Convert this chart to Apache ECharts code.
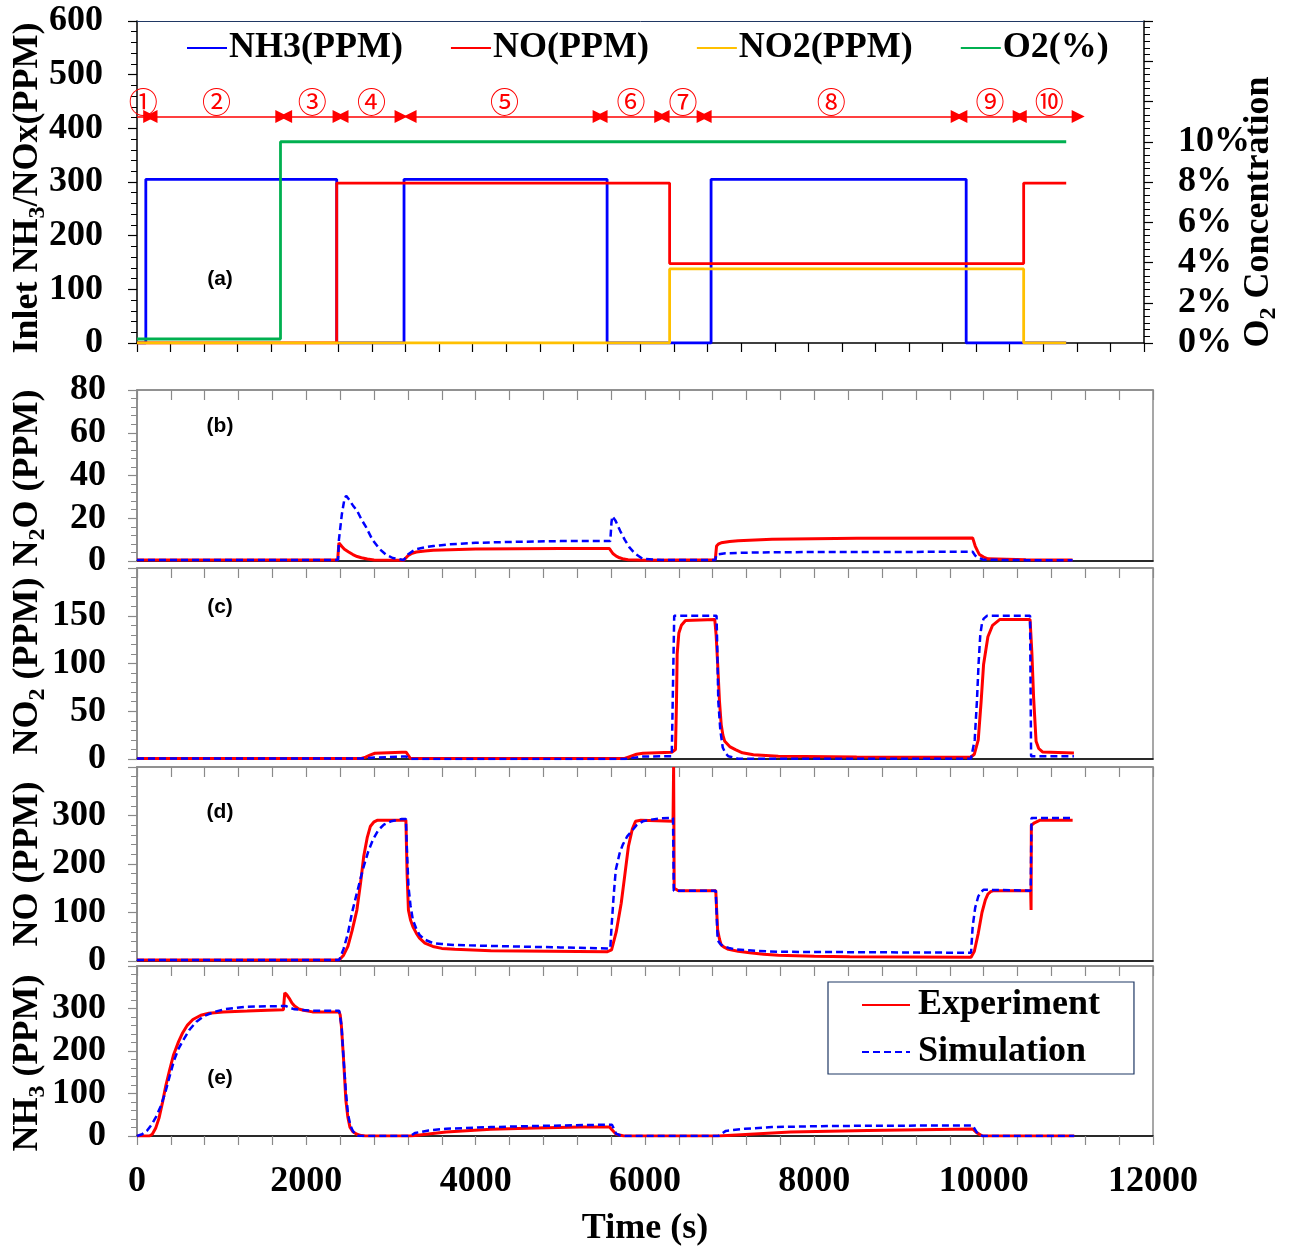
<!DOCTYPE html>
<html><head><meta charset="utf-8">
<script src="https://cdn.jsdelivr.net/npm/echarts@6/dist/echarts.min.js"></script>
<style>html,body{margin:0;padding:0;background:#fff}#c{width:1292px;height:1247px}</style>
</head><body><div id="c"></div>
<script>
// ---------- DATA ----------
// Panel (a): inlet step profiles (time s, value)
const inletNH3T = [0, 105, 2380, 3182, 5602, 6841, 9881, 11073];
const inletNH3V = [0, 305, 0, 305, 0, 305, 0, 0];
const inletNOT  = [0, 2380, 6347, 10566, 11073];
const inletNOV  = [0, 298, 148, 298, 298];
const inletNO2T = [0, 6347, 10566, 11073];
const inletNO2V = [0, 138, 0, 0];
const inletO2T  = [0, 1710, 11073];
const inletO2V  = [0.2, 10, 10];

// Phase annotations (panel a)
const phaseLabels = ['①','②','③','④','⑤','⑥','⑦','⑧','⑨','⑩'];
const phaseStart  = [0, 167, 1771, 2443, 3254, 5530, 6269, 6770, 9818, 10525];
const phaseEnd    = [151, 1726, 2408, 3147, 5507, 6241, 6746, 9774, 10513, 11216];
const phaseLevel  = 422;

// Panel (b): N2O
const n2oExpT = [0, 2370, 2385, 2420, 2450, 2500, 2550, 2600, 2650, 2720, 2800, 3150, 3200, 3250, 3300, 3400, 3500, 3700, 4000, 5000, 5580, 5620, 5660, 5700, 5750, 5800, 6000, 6830, 6845, 6870, 6900, 7000, 7100, 7500, 8500, 9870, 9900, 9930, 9950, 10000, 10050, 10500, 11050];
const n2oExpV = [0.5, 0.5, 8.5, 6.8, 5.5, 4.2, 3, 2.1, 1.5, 0.9, 0.5, 0.3, 2.5, 3.6, 4.2, 4.7, 5.0, 5.3, 5.6, 5.8, 5.8, 3.5, 2.3, 1.5, 0.9, 0.6, 0.4, 0.6, 7, 8, 8.5, 9.1, 9.5, 10.2, 10.7, 10.8, 7, 4.5, 3, 1.8, 1, 0.6, 0.5];
const n2oSimT = [0, 2375, 2385, 2420, 2450, 2470, 2500, 2550, 2600, 2650, 2706, 2780, 2863, 2940, 3020, 3150, 3200, 3250, 3300, 3400, 3500, 3700, 4000, 4500, 5000, 5590, 5604, 5614, 5650, 5708, 5760, 5814, 5880, 5974, 6200, 6830, 6845, 6950, 7300, 8000, 9870, 9900, 9990, 10500, 11050];
const n2oSimV = [0.5, 0.5, 10, 22, 29, 30.5, 29, 26, 23.5, 19.5, 15.8, 10, 5.7, 3, 1.4, 0.5, 3, 4.5, 5.5, 6.4, 7, 7.8, 8.5, 9, 9.3, 9.3, 18, 20.9, 19, 14, 10, 6.5, 3.5, 1, 0.5, 0.5, 3, 3.6, 4, 4.2, 4.3, 2.5, 0.6, 0.4, 0.4];

// Panel (c): NO2
const no2ExpT = [0, 2650, 2700, 2750, 2810, 3128, 3180, 3230, 5760, 5820, 5900, 5974, 6316, 6360, 6372, 6380, 6400, 6430, 6478, 6824, 6840, 6858, 6880, 6900, 6920, 6942, 7000, 7068, 7150, 7280, 7575, 8500, 9846, 9890, 9936, 9970, 9999, 10050, 10105, 10188, 10548, 10570, 10590, 10619, 10650, 10695, 11066];
const no2ExpV = [0.5, 0.5, 2, 4, 6, 7, 7, 0.5, 0.5, 2.5, 5, 6, 7, 10, 60, 110, 132, 140, 145, 146, 130, 100, 60, 36, 25, 18.5, 13, 9.8, 6.5, 4.5, 2.8, 2.2, 1.8, 5, 20, 60, 99, 128, 140, 146, 146, 110, 64, 18.5, 11, 7.4, 6.3];
const no2SimT = [0, 2650, 2810, 3128, 3180, 3230, 5760, 5974, 6316, 6335, 6345, 6845, 6855, 6866, 6890, 6918, 6950, 6985, 7100, 9850, 9894, 9920, 9940, 9960, 9980, 10000, 10041, 10548, 10560, 11066];
const no2SimV = [0.5, 0.5, 1.5, 2.5, 2.5, 0, 0, 2.5, 3, 3, 150, 150, 110, 60, 30, 12, 6, 2.8, 0.3, 0.3, 20, 60, 100, 130, 142, 147, 150, 150, 3, 3];

// Panel (d): NO
const noExpT = [0, 2388, 2440, 2491, 2540, 2597, 2640, 2678, 2720, 2757, 2800, 2836, 3176, 3190, 3206, 3230, 3258, 3300, 3337, 3400, 3495, 3600, 3754, 4180, 5550, 5605, 5660, 5719, 5760, 5804, 5850, 5888, 5950, 6331, 6338, 6345, 6394, 6836, 6845, 6858, 6880, 6900, 6940, 6985, 7100, 7237, 7400, 7575, 8000, 8418, 9851, 9890, 9936, 9980, 10020, 10050, 10083, 10120, 10555, 10560, 10563, 10600, 10661, 11051];
const noExpV = [2, 2, 12, 30, 62, 105, 160, 216, 255, 278, 287, 290, 290, 180, 105, 85, 71, 57, 47, 37, 30, 26, 24, 21, 19, 23, 60, 119, 175, 236, 272, 288, 290, 288, 400, 150, 145, 145, 110, 64, 45, 33, 28, 24, 20, 17, 14, 12, 10, 9, 7.6, 20, 57, 100, 126, 138, 143, 145, 145, 105, 280, 285, 290, 290];
const noSimT = [0, 2388, 2440, 2491, 2540, 2597, 2640, 2678, 2730, 2786, 2850, 2916, 3000, 3128, 3176, 3190, 3206, 3230, 3258, 3300, 3337, 3400, 3495, 3600, 3754, 4180, 5000, 5550, 5590, 5605, 5630, 5655, 5700, 5738, 5790, 5844, 5900, 5974, 6050, 6183, 6331, 6340, 6836, 6850, 6858, 6885, 6918, 6990, 7068, 7300, 7575, 9851, 9870, 9900, 9936, 9965, 10000, 10555, 10565, 11051];
const noSimV = [2, 2, 25, 57, 100, 140, 170, 195, 225, 250, 270, 281, 288, 293, 293, 220, 154, 115, 85, 66, 54, 44, 37, 35, 33, 31, 28, 26, 26, 71, 135, 188, 222, 240, 257, 268, 280, 288, 291, 294, 295, 145, 145, 80, 43, 36, 31, 27, 24, 21, 19, 17, 71, 110, 133, 142, 147, 145, 295, 295];

// Panel (e): NH3
const nh3ExpT = [0, 148, 180, 220, 260, 300, 340, 385, 430, 491, 540, 596, 660, 754, 850, 1016, 1300, 1546, 1729, 1745, 1770, 1798, 1830, 1861, 1910, 1967, 2072, 2388, 2400, 2415, 2440, 2467, 2490, 2515, 2550, 2597, 2650, 2700, 3232, 3651, 4180, 4707, 5234, 5580, 5659, 5750, 6866, 7720, 8630, 9870, 9917, 9985, 11070];
const nh3ExpV = [0, 0, 4, 18, 42, 78, 118, 155, 190, 222, 243, 261, 274, 284, 289, 292, 294, 296, 297, 337, 332, 324, 313, 306, 299, 296, 292, 292, 285, 257, 180, 84, 45, 21, 10, 4, 1, 0, 0, 9.4, 15.7, 18.9, 21, 21, 4, 0, 0, 9.4, 13, 16.5, 8, 0, 0];
const nh3SimT = [0, 16, 60, 120, 170, 225, 280, 331, 385, 438, 490, 544, 620, 702, 800, 912, 1050, 1281, 1755, 1800, 1861, 2072, 2388, 2415, 2441, 2465, 2491, 2520, 2546, 2580, 2620, 3232, 3282, 3443, 3651, 4180, 4707, 5580, 5610, 5659, 5720, 6866, 6955, 7180, 7500, 8177, 9870, 9917, 9985, 11070];
const nh3SimV = [0, 0, 4, 13, 26, 45, 70, 100, 140, 178, 205, 225, 250, 269, 283, 292, 299, 304, 306, 302, 298, 295, 295, 260, 178, 110, 53, 25, 13, 4, 0, 0, 7, 13, 17, 21, 23.6, 26.7, 26.7, 5.5, 0, 0, 12, 17, 21, 23.6, 25, 9, 0, 0];

// Axis tick values
const xTicks = {min: 0, max: 12000, step: 400, labelStep: 2000};
const yRanges = [
  {min: 0, max: 600, step: 100},
  {min: 0, max: 80, step: 20},
  {min: 0, max: 200, step: 50},
  {min: 0, max: 400, step: 100},
  {min: 0, max: 400, step: 100}
];
const o2Range = {min: 0, max: 16, step: 2, lastLabel: 10};

// ---------- STYLE ----------
const SERIF = "'Liberation Serif','Times New Roman',serif";
const SANS = "'Liberation Sans',Arial,sans-serif";
const RED = '#ff0000', BLUE = '#0000ff', YEL = '#ffc000', GRN = '#00b050';
const GRAY = '#8a8a8a';
const zip = (t, v) => t.map((x, i) => [x, v[i]]);

const grids = [
  {left: 137, top: 21, width: 1007, height: 322},
  {left: 137, top: 390, width: 1016, height: 171, show: true, borderColor: GRAY, borderWidth: 1.5},
  {left: 137, top: 568, width: 1016, height: 191, show: true, borderColor: GRAY, borderWidth: 1.5},
  {left: 137, top: 767, width: 1016, height: 194, show: true, borderColor: GRAY, borderWidth: 1.5},
  {left: 137, top: 966, width: 1016, height: 170, show: true, borderColor: GRAY, borderWidth: 1.5}
];

const labelFont = {fontFamily: SERIF, fontWeight: 'bold', fontSize: 36, color: '#000'};

const xBase = (g) => ({type: 'value', gridIndex: g, min: xTicks.min, max: xTicks.max, interval: xTicks.step, splitLine: {show: false}});
const xAxes = [];
xAxes.push(Object.assign(xBase(0), {position: 'bottom', axisLine: {show: true, onZero: false, lineStyle: {color: '#000', width: 1.5}},
  axisTick: {show: true, inside: false, length: 9, lineStyle: {color: '#000', width: 1.2}}, axisLabel: {show: false}}));
xAxes.push(Object.assign(xBase(0), {position: 'top', axisLine: {show: true, onZero: false, lineStyle: {color: '#203864', width: 1}},
  axisTick: {show: false}, axisLabel: {show: false}}));
for (let g = 1; g <= 4; g++) {
  const last = g === 4;
  xAxes.push(Object.assign(xBase(g), {position: 'bottom', axisLine: {show: true, onZero: false, lineStyle: {color: '#000', width: 1.5}},
    axisTick: {show: last, inside: false, length: 9, lineStyle: {color: GRAY, width: 1.2}},
    axisLabel: last ? Object.assign({show: true, margin: 28, formatter: v => (v % xTicks.labelStep === 0 ? String(v) : '')}, labelFont) : {show: false}}));
  xAxes.push(Object.assign(xBase(g), {position: 'top', axisLine: {show: true, onZero: false, lineStyle: {color: GRAY, width: 1.5}},
    axisTick: {show: true, inside: true, length: 10, lineStyle: {color: GRAY, width: 1.2}}, axisLabel: {show: false}}));
}

const yAxes = [];
yAxes.push({type: 'value', gridIndex: 0, position: 'left', min: yRanges[0].min, max: yRanges[0].max, interval: yRanges[0].step,
  axisLine: {show: true, onZero: false, lineStyle: {color: '#000', width: 1.5}},
  axisTick: {show: true, inside: false, length: 9, lineStyle: {color: '#000', width: 1.2}},
  minorTick: {show: true, splitNumber: 5, length: 6, lineStyle: {color: '#000', width: 1}},
  axisLabel: Object.assign({margin: 34}, labelFont), splitLine: {show: false}});
yAxes.push({type: 'value', gridIndex: 0, position: 'right', min: o2Range.min, max: o2Range.max, interval: o2Range.step,
  axisLine: {show: true, onZero: false, lineStyle: {color: '#000', width: 1.5}},
  axisTick: {show: true, inside: false, length: 9, lineStyle: {color: '#000', width: 1.2}},
  minorTick: {show: true, splitNumber: 6, length: 6, lineStyle: {color: '#000', width: 1}},
  axisLabel: Object.assign({margin: 34, formatter: v => (v <= o2Range.lastLabel ? v + '%' : '')}, labelFont), splitLine: {show: false}});
for (let g = 1; g <= 4; g++) {
  const r = yRanges[g];
  yAxes.push({type: 'value', gridIndex: g, position: 'left', min: r.min, max: r.max, interval: r.step,
    axisLine: {show: true, onZero: false, lineStyle: {color: GRAY, width: 1.5}},
    axisTick: {show: true, inside: false, length: 9, lineStyle: {color: GRAY, width: 1.2}},
    minorTick: {show: true, splitNumber: 5, length: 6, lineStyle: {color: GRAY, width: 1}},
    axisLabel: Object.assign({margin: 31, showMaxLabel: g === 1}, labelFont), splitLine: {show: false}});
}

const stepLine = (name, t, v, color, yIdx, extra) => Object.assign({
  name, type: 'line', xAxisIndex: 0, yAxisIndex: yIdx, step: 'end', data: zip(t, v),
  symbol: 'none', showSymbol: false, lineStyle: {color, width: 2.8}, itemStyle: {color}
}, extra || {});

const phaseLines = phaseLabels.map((lab, i) => [
  {name: lab, coord: [phaseStart[i], phaseLevel], symbol: i === 0 ? 'none' : 'triangle'},
  {coord: [phaseEnd[i], phaseLevel], symbol: 'triangle'}
]);

const series = [
  stepLine('NH3(PPM)', inletNH3T, inletNH3V, BLUE, 0, {
    markLine: {silent: true, symbol: ['triangle', 'triangle'], symbolSize: [13, 13],
      lineStyle: {color: RED, width: 1.5, type: 'solid'}, itemStyle: {color: RED},
      label: {show: true, position: 'insideMiddleTop', distance: 0, formatter: p => p.name, color: RED,
        fontFamily: "'Noto Sans CJK SC','DejaVu Sans',sans-serif", fontSize: 29},
      emphasis: {disabled: true}, data: phaseLines, animation: false}
  }),
  stepLine('NO(PPM)', inletNOT, inletNOV, RED, 0),
  stepLine('NO2(PPM)', inletNO2T, inletNO2V, YEL, 0),
  stepLine('O2(%)', inletO2T, inletO2V, GRN, 1)
];

const panels = [
  [n2oExpT, n2oExpV, n2oSimT, n2oSimV],
  [no2ExpT, no2ExpV, no2SimT, no2SimV],
  [noExpT, noExpV, noSimT, noSimV],
  [nh3ExpT, nh3ExpV, nh3SimT, nh3SimV]
];
panels.forEach((p, k) => {
  const g = k + 1;
  series.push({name: 'Experiment', type: 'line', xAxisIndex: 2 * g, yAxisIndex: g + 1, data: zip(p[0], p[1]),
    symbol: 'none', showSymbol: false, lineStyle: {color: RED, width: 3}, itemStyle: {color: RED}, z: 3});
  series.push({name: 'Simulation', type: 'line', xAxisIndex: 2 * g, yAxisIndex: g + 1, data: zip(p[2], p[3]),
    symbol: 'none', showSymbol: false, lineStyle: {color: BLUE, width: 2.5, type: [7, 4]}, itemStyle: {color: BLUE}, z: 4});
});

const richStyles = {
  m: {fontFamily: SERIF, fontWeight: 'bold', fontSize: 36, lineHeight: 44, fill: '#000'},
  s: {fontFamily: SERIF, fontWeight: 'bold', fontSize: 24, lineHeight: 22, verticalAlign: 'bottom', fill: '#000'}
};
const vTitle = (text, x, y) => ({type: 'text', x, y, rotation: Math.PI / 2, silent: true,
  style: {text, textAlign: 'center', textVerticalAlign: 'middle', rich: richStyles, fill: '#000',
    fontFamily: SERIF, fontWeight: 'bold', fontSize: 36}});
const panelTag = (t, x, y) => ({type: 'text', x, y, silent: true,
  style: {text: t, textAlign: 'center', textVerticalAlign: 'middle', fill: '#000', fontFamily: SANS, fontWeight: 'bold', fontSize: 21}});

const option = {
  animation: false,
  backgroundColor: '#fff',
  grid: grids,
  xAxis: xAxes,
  yAxis: yAxes,
  legend: [
    {data: ['NH3(PPM)', 'NO(PPM)', 'NO2(PPM)', 'O2(%)'], left: 186, top: 30, padding: 0, itemGap: 47,
      itemWidth: 40, itemHeight: 14, selectedMode: false, itemStyle: {opacity: 0},
      textStyle: {fontFamily: SERIF, fontWeight: 'bold', fontSize: 36, color: '#000', padding: [0, 0, 0, -3]}},
    {data: ['Experiment', 'Simulation'], left: 828, top: 982, orient: 'vertical', padding: [3, 34, 2, 33],
      itemGap: 7, itemWidth: 48, itemHeight: 14, selectedMode: false, itemStyle: {opacity: 0},
      borderColor: '#1f3864', borderWidth: 1.2, backgroundColor: '#fff',
      textStyle: {fontFamily: SERIF, fontWeight: 'bold', fontSize: 36, color: '#000', lineHeight: 40, padding: [0, 0, 0, 3]}}
  ],
  graphic: [
    vTitle('{m|Inlet NH}{s|3}{m|/NOx(PPM)}', 28, 188),
    vTitle('{m|N}{s|2}{m|O (PPM)}', 28, 478),
    vTitle('{m|NO}{s|2}{m| (PPM)}', 28, 666),
    vTitle('{m|NO (PPM)}', 28, 864),
    vTitle('{m|NH}{s|3}{m| (PPM)}', 28, 1063),
    vTitle('{m|O}{s|2}{m| Concentration}', 1259, 212),
    panelTag('(a)', 220, 279),
    panelTag('(b)', 220, 426),
    panelTag('(c)', 220, 607),
    panelTag('(d)', 220, 812),
    panelTag('(e)', 220, 1078),
    {type: 'text', x: 645, y: 1229, silent: true,
      style: {text: 'Time (s)', textAlign: 'center', textVerticalAlign: 'middle', fill: '#000', fontFamily: SERIF, fontWeight: 'bold', fontSize: 36}}
  ],
  series
};

const chart = echarts.init(document.getElementById('c'), null, {renderer: 'canvas'});
chart.setOption(option);
</script></body></html>
